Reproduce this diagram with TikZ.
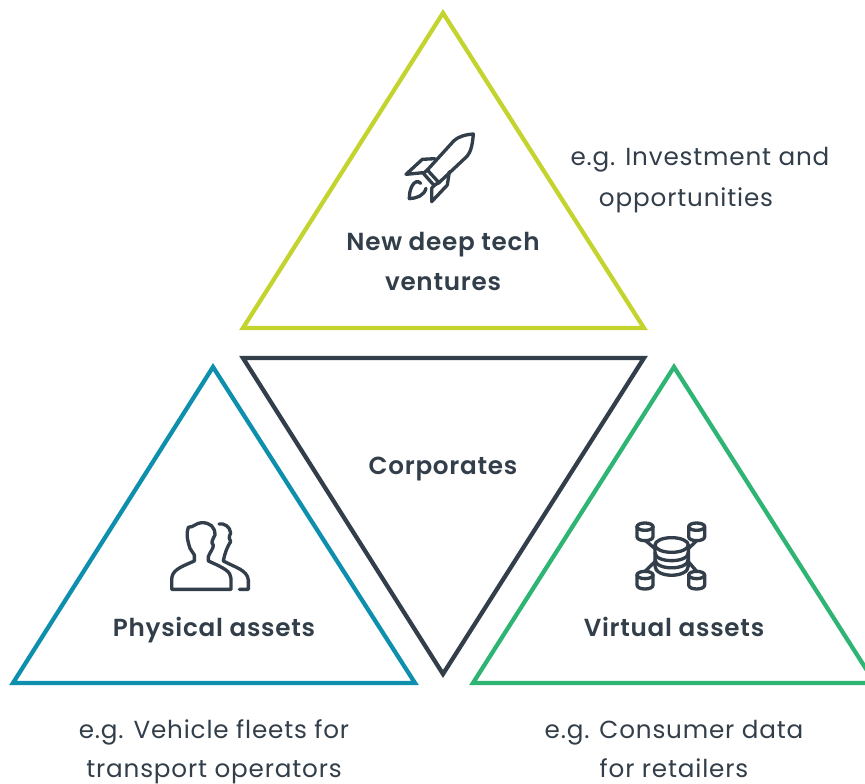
\documentclass[tikz,border=0pt]{standalone}
\usepackage{fontspec}
\setmainfont[LetterSpace=3,BoldFont={Poppins SemiBold}]{Poppins}
\newfontfamily\regfont[LetterSpace=3.4]{Poppins}
\definecolor{lime}{HTML}{C3D42F}
\definecolor{navy}{HTML}{323E4A}
\definecolor{teal}{HTML}{0E8FAE}
\definecolor{green}{HTML}{2FB573}
\tikzset{
  tri/.style={line width=3.2pt, line join=miter, miter limit=10},
  ico/.style={draw=navy, line width=2.5pt, line cap=round, line join=round},
  lab/.style={font=\fontsize{18.5pt}{22pt}\regfont, text=navy, inner sep=0pt, anchor=base},
  blab/.style={font=\fontsize{18.5pt}{22pt}\selectfont\bfseries, text=navy, inner sep=0pt, anchor=base}
}
\begin{document}
\begin{tikzpicture}[x=0.75pt,y=-0.75pt]
\useasboundingbox (0,0) rectangle (865,784);
\fill[white] (0,0) rectangle (865,784);
\draw[tri,draw=lime] (443,13) -- (644,328) -- (243,328) -- cycle;
\draw[tri,draw=navy] (243,358) -- (644,358) -- (443,674) -- cycle;
\draw[tri,draw=teal] (213,367) -- (415,683) -- (13,683) -- cycle;
\draw[tri,draw=green] (674,367) -- (875,683) -- (473,683) -- cycle;
\node[blab] (t1) at (443,251) {New deep tech};
\node[blab] (t2) at (443,291) {ventures};
\node[blab] (t3) at (443,475) {Corporates};
\node[blab] (t4) at (214,636) {Physical assets};
\node[blab] (t5) at (674,636) {Virtual assets};
\node[lab] (e1) at (700,166) {e.g. Investment and};
\node[lab] (e2) at (686,207) {opportunities};
\node[lab] (e3) at (214,738) {e.g. Vehicle fleets for};
\node[lab] (e4) at (214,777) {transport operators};
\node[lab] (e5) at (674,738) {e.g. Consumer data};
\node[lab] (e6) at (674,777) {for retailers};
% rocket
\begin{scope}[shift={(390,120)},x=0.25pt,y=-0.25pt]
\draw[ico] (250,42) .. controls (225,44) and (205,50) .. (192,62) -- (112,150) -- (147,188) -- (232,108) .. controls (243,95) and (248,70) .. (250,42) -- cycle;
\draw[ico] (100,160) -- (132,196);
\draw[ico] (100,160) -- (112,150);
\draw[ico] (132,196) -- (147,188);
\draw[ico] (135,116) -- (97,118) -- (48,163) -- (100,158);
\draw[ico] (178,155) -- (172,195) -- (125,245) -- (125,205) -- (136,192);
\draw[ico] (92,190) .. controls (84,180) and (72,186) .. (66,198) .. controls (60,210) and (58,222) .. (58,236) .. controls (78,235) and (102,228) .. (108,205);
\end{scope}
% people
\begin{scope}[shift={(160,510)},x=0.25pt,y=-0.25pt]
\draw[ico] (35,238) -- (213,238) -- (213,205) .. controls (212,185) and (195,175) .. (145,153) -- (145,140) .. controls (150,125) and (160,118) .. (160,105) .. controls (150,100) and (160,85) .. (165,75) .. controls (165,50) and (150,38) .. (125,38) .. controls (110,38) and (100,52) .. (85,52) .. controls (78,70) and (82,90) .. (90,115) -- (103,135) -- (103,153) .. controls (60,172) and (35,180) .. (35,210) -- cycle;
\draw[ico] (177,42) .. controls (190,38) and (212,50) .. (212,70) .. controls (205,80) and (208,90) .. (212,95) .. controls (205,105) and (195,125) .. (190,153) .. controls (225,172) and (262,180) .. (265,210) -- (265,238) -- (238,238);
\end{scope}
% database
\begin{scope}[shift={(625,510)},x=0.25pt,y=-0.25pt]
\draw[ico] (90,105) -- (90,168) .. controls (90,205) and (190,205) .. (190,168) -- (190,105);
\draw[ico] (140,105) ellipse [x radius=50, y radius=22];
\draw[ico] (90,128) .. controls (90,160) and (190,160) .. (190,128);
\draw[ico] (90,148) .. controls (90,182) and (190,182) .. (190,148);
\foreach \cx/\cy in {60/50, 215/50, 60/195, 215/195}{
  \draw[ico] (\cx,\cy) ellipse [x radius=24, y radius=11];
  \draw[ico] (\cx-24,\cy) -- (\cx-24,\cy+30) .. controls (\cx-24,\cy+46) and (\cx+24,\cy+46) .. (\cx+24,\cy+30) -- (\cx+24,\cy);
}
\draw[ico] (62,92) -- (90,116);
\draw[ico] (190,116) -- (215,92);
\draw[ico] (90,155) -- (60,184);
\draw[ico] (190,155) -- (215,184);
\end{scope}
\end{tikzpicture}
\end{document}
